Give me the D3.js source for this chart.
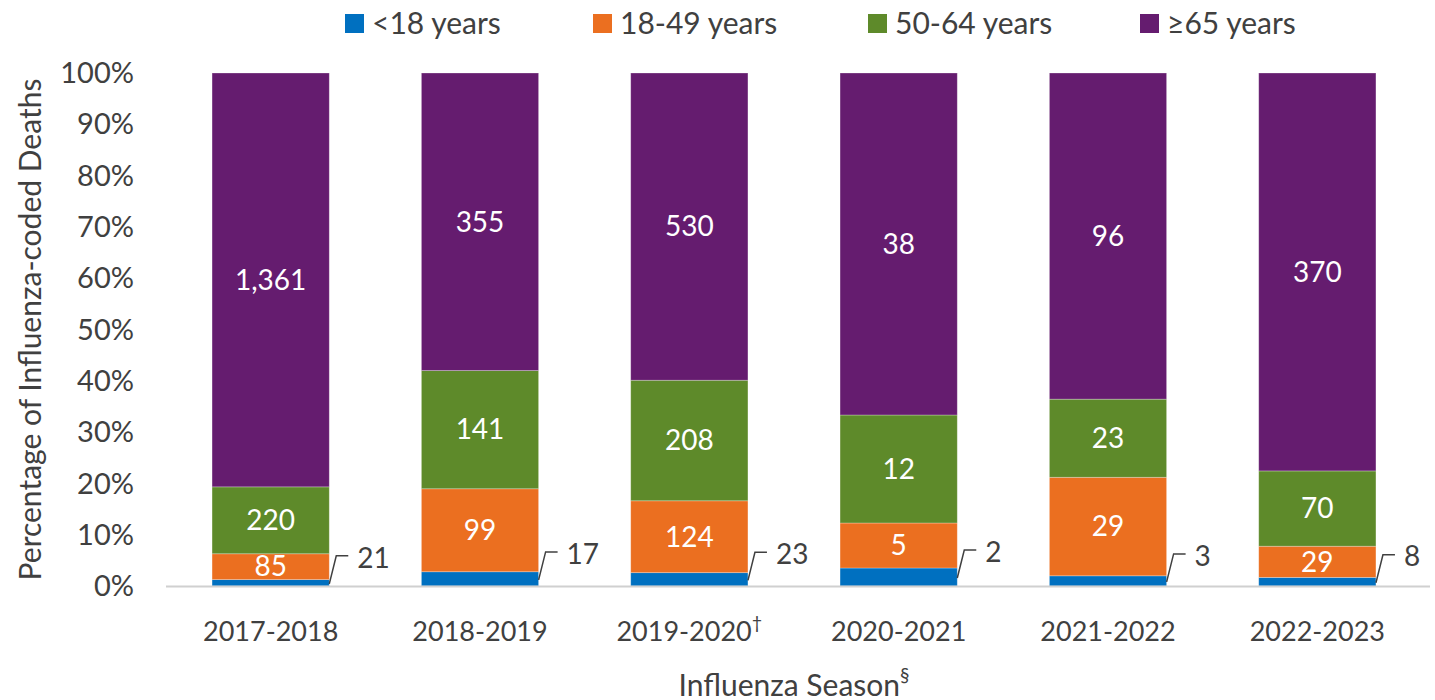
<!DOCTYPE html>
<html>
<head>
<meta charset="utf-8">
<script src="https://cdn.jsdelivr.net/npm/d3@7"></script>
<style>
  body { margin: 0; background: #fff; }
  svg text { font-family: "Source Sans Pro", Lato, "Noto Sans", sans-serif; fill: #404040; }
</style>
</head>
<body>
<div class="chart"></div>
<script>
// data
const seasons = ["2017-2018", "2018-2019", "2019-2020", "2020-2021", "2021-2022", "2022-2023"];
const seasonMarks = ["", "", "\u2020", "", "", ""];
const groups = ["<18 years", "18-49 years", "50-64 years", "\u226565 years"];
const under18 = [21, 17, 23, 2, 3, 8];
const age18to49 = [85, 99, 124, 5, 29, 29];
const age50to64 = [220, 141, 208, 12, 23, 70];
const age65plus = [1361, 355, 530, 38, 96, 370];
const yTicks = [0, 0.1, 0.2, 0.3, 0.4, 0.5, 0.6, 0.7, 0.8, 0.9, 1];

const colors = ["#0070c0", "#eb6f20", "#5e8a2a", "#651c6f"];

function drawChart() {
    const w = 1435, h = 700;
    const svg = d3.select('.chart').append('svg')
        .attr('width', w)
        .attr('height', h);

    const xScale = d3.scaleBand()
        .domain(seasons)
        .range([166, 1422])
        .paddingInner(0.44)
        .paddingOuter(0.22);

    const yScale = d3.scaleLinear()
        .domain([0, 1])
        .range([586, 73]);

    // build stacked table
    const table = seasons.map((s, i) => ({
        season: s,
        "<18 years": under18[i],
        "18-49 years": age18to49[i],
        "50-64 years": age50to64[i],
        "\u226565 years": age65plus[i]
    }));
    const stack = d3.stack().keys(groups).offset(d3.stackOffsetExpand);
    const series = stack(table);

    const layer = svg.selectAll('.layer')
        .data(series)
        .enter().append('g')
        .attr('class', 'layer')
        .attr('fill', (d, i) => colors[i]);

    layer.selectAll('rect')
        .data(d => d)
        .enter().append('rect')
        .attr('x', d => xScale(d.data.season))
        .attr('width', xScale.bandwidth())
        .attr('y', d => yScale(d[1]))
        .attr('height', d => yScale(d[0]) - yScale(d[1]))
        .attr('stroke', 'rgba(255,255,255,0.35)')
        .attr('stroke-width', 0.8);

    // white labels inside the bigger segments
    series.forEach((s, k) => {
        if (k === 0) return;
        svg.selectAll('.lbl' + k)
            .data(s)
            .enter().append('text')
            .attr('x', d => xScale(d.data.season) + xScale.bandwidth() / 2)
            .attr('y', d => yScale((d[0] + d[1]) / 2))
            .attr('dy', '0.35em')
            .attr('text-anchor', 'middle')
            .style('font-size', '28px')
            .style('fill', '#fff')
            .text(d => d3.format(',')(d.data[groups[k]]));
    });

    // callouts for <18
    const callout = svg.selectAll('.callout')
        .data(series[0])
        .enter().append('g')
        .attr('class', 'callout');

    callout.append('path')
        .attr('d', d => {
            const x0 = xScale(d.data.season) + xScale.bandwidth();
            const y0 = yScale((d[0] + d[1]) / 2) + 1;
            return `M${x0},${y0}L${x0 + 7},${y0 - 28}L${x0 + 19},${y0 - 28}`;
        })
        .attr('fill', 'none')
        .attr('stroke', '#404040')
        .attr('stroke-width', 1.5);

    callout.append('text')
        .attr('x', d => xScale(d.data.season) + xScale.bandwidth() + 28)
        .attr('y', d => yScale((d[0] + d[1]) / 2) - 25)
        .attr('dy', '0.35em')
        .style('font-size', '28px')
        .text(d => d.data["<18 years"]);

    // x axis line
    svg.append('line')
        .attr('x1', 166).attr('x2', 1430)
        .attr('y1', 586.5).attr('y2', 586.5)
        .attr('stroke', '#d0d0d0')
        .attr('stroke-width', 2);

    // x labels
    const xl = svg.selectAll('.xlab')
        .data(seasons)
        .enter().append('text')
        .attr('class', 'xlab')
        .attr('x', d => xScale(d) + xScale.bandwidth() / 2)
        .attr('y', 632)
        .attr('dy', '0.35em')
        .attr('text-anchor', 'middle')
        .style('font-size', '27px')
        .text(d => d);
    xl.append('tspan')
        .attr('dy', '-0.7em')
        .style('font-size', '18px')
        .text((d, i) => seasonMarks[i]);

    // y labels
    svg.selectAll('.ylab')
        .data(yTicks)
        .enter().append('text')
        .attr('x', 134)
        .attr('y', d => yScale(d))
        .attr('dy', '0.35em')
        .attr('text-anchor', 'end')
        .style('font-size', '29px')
        .text(d3.format('.0%'));

    // axis titles
    svg.append('text')
        .attr('transform', 'translate(30,' + (yScale(0.5)) + ') rotate(-90)')
        .attr('text-anchor', 'middle')
        .attr('dy', '0.35em')
        .style('font-size', '30px')
        .text('Percentage of Influenza-coded Deaths');

    const xt = svg.append('text')
        .attr('x', 794)
        .attr('y', 685)
        .attr('dy', '0.35em')
        .attr('text-anchor', 'middle')
        .style('font-size', '30px')
        .text('Influenza Season');
    xt.append('tspan')
        .attr('dy', '-0.7em')
        .style('font-size', '19px')
        .text('\u00a7');

    // legend
    const legendX = [345, 593, 868, 1140];
    const legend = svg.selectAll('.legend')
        .data(groups)
        .enter().append('g')
        .attr('class', 'legend')
        .attr('transform', (d, i) => `translate(${legendX[i]},23)`);

    legend.append('rect')
        .attr('x', 0).attr('y', -9)
        .attr('width', 19).attr('height', 19)
        .attr('fill', (d, i) => colors[i]);

    legend.append('text')
        .attr('x', 27)
        .attr('y', 0)
        .attr('dy', '0.35em')
        .style('font-size', '30px')
        .text(d => d);
}

drawChart();
</script>
</body>
</html>
